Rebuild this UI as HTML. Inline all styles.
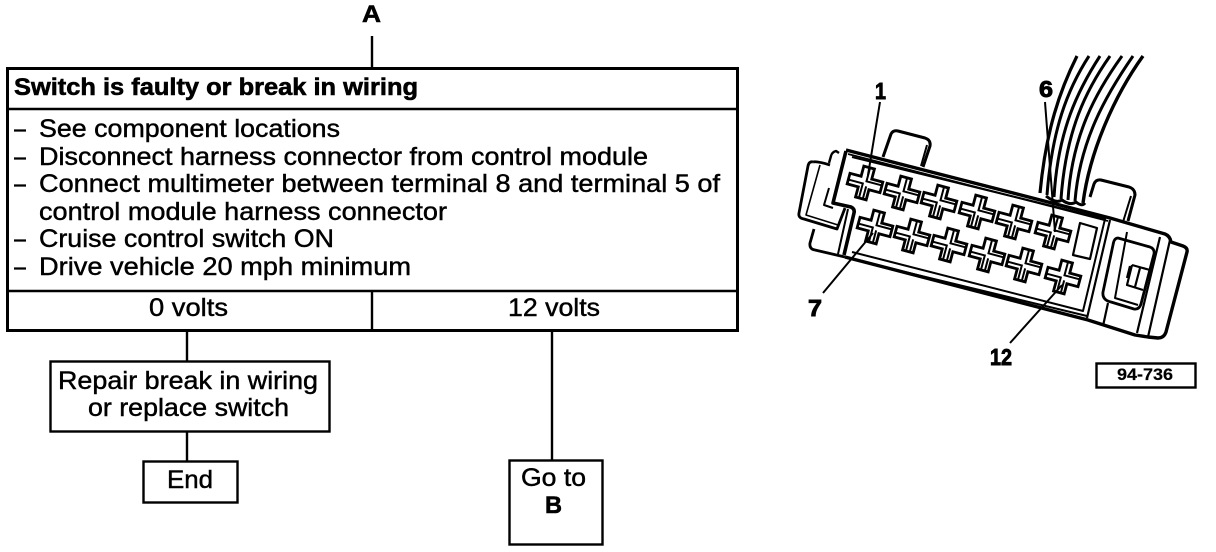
<!DOCTYPE html>
<html><head><meta charset="utf-8"><style>
html,body{margin:0;padding:0;background:#fff;width:1216px;height:552px;overflow:hidden}
svg{display:block}
text{font-family:"Liberation Sans",sans-serif;font-size:25px;fill:#000;stroke:#000;stroke-width:.45}
.b{font-weight:bold;font-size:24.5px;stroke-width:.6}
.s{font-weight:bold;font-size:23px;stroke-width:.9}
</style></head><body>
<svg width="1216" height="552" viewBox="0 0 1216 552" xmlns="http://www.w3.org/2000/svg">
<defs>
<g id="c" fill="#fff" stroke="#000">
<path stroke-width="2.8" d="M-5.5,-16 L5.5,-16 L5.5,-5.5 L17,-5.5 L17,5.5 L5.5,5.5 L5.5,16 L-5.5,16 L-5.5,5.5 L-17,5.5 L-17,-5.5 L-5.5,-5.5 Z"/>
<path stroke-width="2" fill="none" d="M1,-15 L1,-2 L16,-2 M-16,1 L-2,1 L-2,15 M2,3 L2,15"/>
</g>
</defs>
<g fill="none" stroke="#000" stroke-width="2.4">
<rect x="7.5" y="68.5" width="730" height="262" stroke-width="3"/>
<path d="M7,109H737M7,291H737M372,291V331M372,36V68M187,331V361M187,431V461M552,331V460"/>
<rect x="50.5" y="361.5" width="279" height="70"/>
<rect x="143.5" y="461.5" width="94" height="41"/>
<rect x="509.5" y="460.5" width="93" height="84"/>
<rect x="1096.5" y="363.5" width="99" height="24" stroke-width="2.4"/>
</g>
<text class="b" x="362" y="22" textLength="19" lengthAdjust="spacingAndGlyphs">A</text>
<text class="b" x="14" y="95" textLength="404" lengthAdjust="spacingAndGlyphs">Switch is faulty or break in wiring</text>
<path d="M14,130.5h12M14,158.5h12M14,185.5h12M14,240.5h12M14,268.5h12" stroke="#000" stroke-width="2.2"/>
<text x="39" y="137" textLength="301" lengthAdjust="spacingAndGlyphs">See component locations</text>
<text x="39" y="165" textLength="609" lengthAdjust="spacingAndGlyphs">Disconnect harness connector from control module</text>
<text x="39" y="192" textLength="681" lengthAdjust="spacingAndGlyphs">Connect multimeter between terminal 8 and terminal 5 of</text>
<text x="39" y="220" textLength="408" lengthAdjust="spacingAndGlyphs">control module harness connector</text>
<text x="39" y="247" textLength="295" lengthAdjust="spacingAndGlyphs">Cruise control switch ON</text>
<text x="39" y="275" textLength="372" lengthAdjust="spacingAndGlyphs">Drive vehicle 20 mph minimum</text>
<text x="149" y="316" textLength="79" lengthAdjust="spacingAndGlyphs">0 volts</text>
<text x="508" y="316" textLength="92" lengthAdjust="spacingAndGlyphs">12 volts</text>
<text x="58" y="389" textLength="260" lengthAdjust="spacingAndGlyphs">Repair break in wiring</text>
<text x="88" y="416" textLength="201" lengthAdjust="spacingAndGlyphs">or replace switch</text>
<text x="167" y="488" textLength="46" lengthAdjust="spacingAndGlyphs">End</text>
<text x="521" y="486" textLength="65" lengthAdjust="spacingAndGlyphs">Go to</text>
<text class="b" x="545" y="513" textLength="17" lengthAdjust="spacingAndGlyphs">B</text>

<!-- wires -->
<g fill="none" stroke="#000" stroke-width="3">
<path d="M1040,193 C1046,130 1060,90 1077,56" stroke-width="3.2"/>
<path d="M1047,195 C1052,130 1067,90 1089,56"/>
<path d="M1054,197 C1058,130 1078,90 1100,56"/>
<path d="M1061,199 C1066,130 1086,90 1110,56"/>
<path d="M1068,200 C1072,135 1096,92 1122,56"/>
<path d="M1075,201 C1080,140 1106,95 1133,56"/>
<path d="M1083,203 C1090,150 1115,95 1143,56" stroke-width="3.4"/>
<path d="M1046,196 Q1056,204 1062,200 Q1070,206 1076,202 Q1082,207 1085,203"/>
</g>
<!-- tabs -->
<g fill="none" stroke="#000" stroke-width="3" stroke-linejoin="round">
<path d="M883,157 L891,134 Q893,130 898,131 L925,138 Q931,140 930,146 L923,167"/>
<path d="M927,145 L921,166" stroke-width="2"/>
<path d="M1090,197 L1094,184 Q1096,179 1101,180 L1129,187 Q1135,189 1135,195 L1128,221"/>
<path d="M1131,196 L1123,222" stroke-width="2"/>
<!-- top edge -->
<path d="M846,150 L1110,218 L1165,234 Q1170,236 1171,242 L1183,246 Q1188,248 1187,252 L1166,332 Q1164,338 1158,338 L1148,337 L1135,335 L1088,320 L845,257" stroke-width="3.4"/>
<path d="M852,157 L1105,219 L1083,311 L852,252" stroke-width="2"/>
<path d="M848,154 L1108,221" stroke-width="1.8"/>
<path d="M847,258 L1087,316" stroke-width="2"/>
<path d="M1110,220 L1087,318M1170,240 L1148,337M1160,237 L1137,333M1108,303 L1103,326" stroke-width="2.2"/>
<!-- left -->
<path d="M846,151 L833,203 L851,207 Q855,209 854,213 L844,255" stroke-width="3.6"/>
<path d="M839,153 L836,151 Q832,152 831,156 L829,163" stroke-width="2.4"/>
<path d="M813,162 Q817,161 830,165 M813,162 Q809,161 808,166 L799,213 Q798,218 804,219 L837,229 L845,208" stroke-width="2.8"/>
<path d="M820,165 L806,215 L838,225" stroke-width="1.6"/>
<path d="M829,188 L824,205 L833,208 M848,209 L838,254" stroke-width="2"/>
<path d="M814,229 L810,243 Q809,249 815,250 L845,257" stroke-width="2.8"/>
<!-- right latch -->
<path d="M1118,238 L1150,247 Q1155,249 1154,254 L1141,304 Q1139,310 1134,309 L1111,302 Q1102,300 1103,292 L1113,245 Q1114,238 1118,238 Z" stroke-width="2.8"/>
<path d="M1127,232 L1115,298 L1138,305M1124,240 L1153,248" stroke-width="2"/>
<path d="M1132,265 L1150,270M1132,265 L1127,285 L1143,290M1140,268 L1135,287M1127,278L1130,266" stroke-width="2.2"/>
<!-- window -->
<path d="M1080,223 L1097,228 L1090,259 L1073,255 Z" stroke-width="2.2"/>
</g>
<use href="#c" transform="translate(865,183) rotate(15)"/>
<use href="#c" transform="translate(902,193) rotate(15)"/>
<use href="#c" transform="translate(939,202) rotate(15)"/>
<use href="#c" transform="translate(977,212) rotate(15)"/>
<use href="#c" transform="translate(1014,222) rotate(15)"/>
<use href="#c" transform="translate(1053,232) rotate(15)"/>
<use href="#c" transform="translate(875,227) rotate(15)"/>
<use href="#c" transform="translate(912,236) rotate(15)"/>
<use href="#c" transform="translate(949,245) rotate(15)"/>
<use href="#c" transform="translate(987,255) rotate(15)"/>
<use href="#c" transform="translate(1024,265) rotate(15)"/>
<use href="#c" transform="translate(1063,277) rotate(15)"/>
<path d="M880,102 L868,175M1045,102 L1055,232M823,293 L873,233M1010,343 L1062,285" stroke="#000" stroke-width="2" fill="none"/>
<text class="s" x="875" y="99" textLength="11" lengthAdjust="spacingAndGlyphs">1</text>
<text class="s" x="1039" y="97" textLength="14" lengthAdjust="spacingAndGlyphs">6</text>
<text class="s" x="808" y="316" textLength="14" lengthAdjust="spacingAndGlyphs">7</text>
<text class="s" x="990" y="365" textLength="22" lengthAdjust="spacingAndGlyphs">12</text>
<text x="1117" y="380" textLength="56" lengthAdjust="spacingAndGlyphs" style="font-size:16.5px;font-weight:bold;stroke-width:.2">94-736</text>
</svg>
</body></html>
